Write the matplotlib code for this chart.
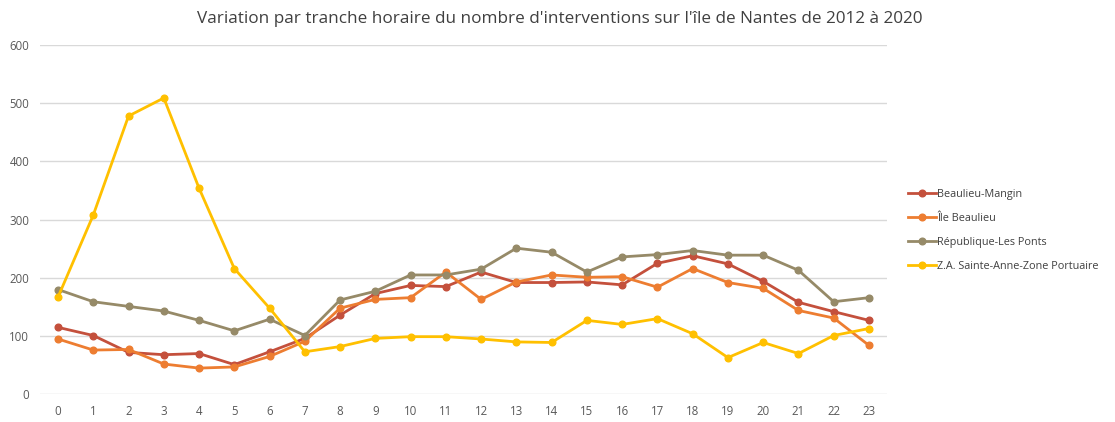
import matplotlib
matplotlib.use("Agg")
import matplotlib.pyplot as plt

plt.rcParams['font.family'] = ['Open Sans', 'DejaVu Sans']

hours = list(range(24))
series_names = ["Beaulieu-Mangin", "Île Beaulieu", "République-Les Ponts", "Z.A. Sainte-Anne-Zone Portuaire"]
beaulieu_mangin = [115, 101, 72, 68, 70, 51, 73, 96, 136, 173, 187, 185, 210, 192, 192, 193, 188, 225, 238, 224, 194, 158, 142, 127]
ile_beaulieu = [95, 76, 77, 52, 45, 47, 65, 91, 148, 163, 166, 210, 163, 193, 205, 201, 202, 184, 216, 192, 182, 144, 131, 84]
republique = [180, 159, 151, 143, 127, 109, 129, 101, 162, 177, 205, 205, 215, 251, 244, 210, 236, 240, 247, 239, 239, 213, 159, 166]
sainte_anne = [167, 308, 478, 509, 354, 216, 148, 73, 82, 96, 99, 99, 95, 90, 89, 127, 120, 130, 104, 63, 89, 70, 101, 113]
y_ticks = [0, 100, 200, 300, 400, 500, 600]
title = "Variation par tranche horaire du nombre d'interventions sur l'île de Nantes de 2012 à 2020"

colors = ["#C4503C", "#ED7D31", "#968A68", "#FFC000"]
data = [beaulieu_mangin, ile_beaulieu, republique, sainte_anne]

fig = plt.figure(figsize=(11.15, 4.22), dpi=100)
ax = fig.add_axes([40.4 / 1115, 1 - 394.3 / 422, (886.6 - 40.4) / 1115, (394.3 - 45) / 422])

handles = []
for vals, c, name in zip(data, colors, series_names):
    h, = ax.plot(hours, vals, color=c, lw=2.0, marker='o', markersize=4.8, label=name,
                 solid_joinstyle='round')
    handles.append(h)

ax.set_xlim(-0.5, 23.5)
ax.set_ylim(0, 600)
ax.set_yticks(y_ticks)
ax.set_xticks(hours)
ax.grid(axis='y', color='#D9D9D9', lw=1)
ax.set_axisbelow(True)
for s in ax.spines.values():
    s.set_visible(False)
ax.tick_params(axis='both', length=0, labelsize=8.3, colors='#595959')
ax.tick_params(axis='y', pad=8)
ax.tick_params(axis='x', pad=8)

fig.text(0.502, 0.955, title, ha='center', va='center', fontsize=12.3, color='#404040')

leg = fig.legend(handles=handles, labels=series_names, loc='upper left',
                 bbox_to_anchor=(898 / 1115, 1 - 179 / 422), frameon=False,
                 fontsize=7.8, handlelength=2.6, handletextpad=0.1, labelspacing=1.2,
                 labelcolor='#404040')

fig.savefig("out.png", dpi=100)
